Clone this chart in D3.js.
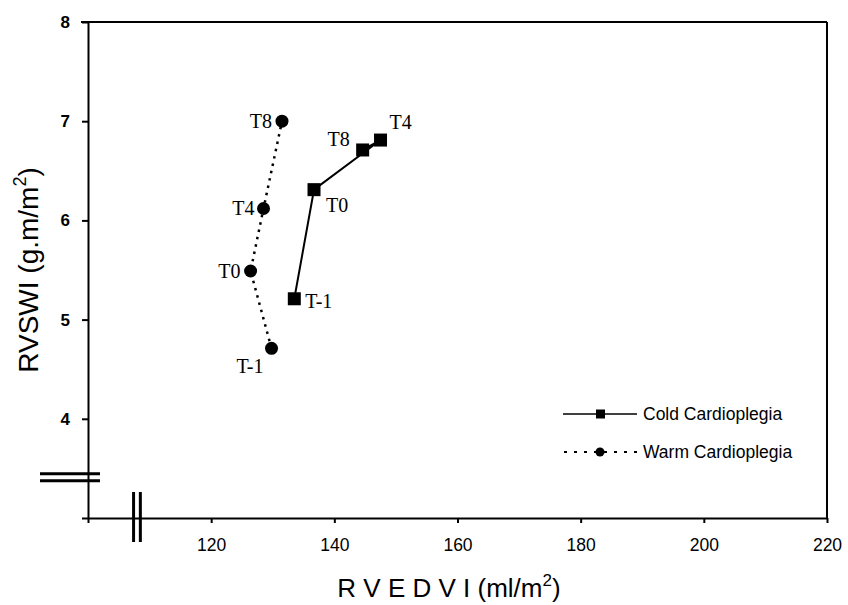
<!DOCTYPE html>
<html><head><meta charset="utf-8">
<script src="https://cdn.jsdelivr.net/npm/d3@7"></script>
<style>body{margin:0;background:#fff}svg{display:block}</style>
</head><body><svg id="c" width="848" height="605"></svg>
<script>
// ---- data ----
const timepoints = ["T-1", "T0", "T4", "T8"];
const coldX = [133.5, 136.7, 147.5, 144.6];
const coldY = [5.21, 6.31, 6.81, 6.71];
const warmX = [129.8, 126.4, 128.5, 131.5];
const warmY = [4.71, 5.49, 6.12, 7.0];
const xTicks = [100, 120, 140, 160, 180, 200, 220];
const xTickLabels = ["", "120", "140", "160", "180", "200", "220"];
const yTicks = [3, 4, 5, 6, 7, 8];
const yTickLabels = ["", "4", "5", "6", "7", "8"];
const seriesNames = ["Cold Cardioplegia", "Warm Cardioplegia"];

// ---- layout / style ----
const svg = d3.select("#c");
const x = d3.scaleLinear().domain([100, 220]).range([88, 827]);
const y = d3.scaleLinear().domain([3, 8]).range([518, 22]);
const sans = "Liberation Sans, Arial, sans-serif";
const serif = "Liberation Serif, Times New Roman, serif";

const coldLabelPos = [[11, 9, "start"], [12, 22, "start"], [9, -11, "start"], [-13, -4, "end"]];
const warmLabelPos = [[-8, 25, "end"], [-10, 7, "end"], [-9, 7, "end"], [-10, 7, "end"]];

// frame (top and right)
svg.append("line").attr("x1", x(100) - 7).attr("x2", x(220)).attr("y1", y(8)).attr("y2", y(8))
  .attr("stroke", "#000").attr("stroke-width", 2);
svg.append("line").attr("x1", x(220)).attr("x2", x(220)).attr("y1", y(8)).attr("y2", y(3))
  .attr("stroke", "#000").attr("stroke-width", 2);

// axes
const xAxis = d3.axisBottom(x).tickValues(xTicks).tickSize(5).tickSizeOuter(0)
  .tickFormat((d, i) => xTickLabels[i]);
const gx = svg.append("g").attr("transform", `translate(0,${y(3)})`).call(xAxis);
gx.select(".domain").attr("stroke-width", 2);
gx.selectAll(".tick line").attr("stroke-width", 2);
gx.selectAll(".tick text").attr("font-family", sans).attr("font-size", 17.5).attr("dy", "1.42em").attr("fill", "#000");

const yAxis = d3.axisLeft(y).tickValues(yTicks).tickSize(6).tickSizeOuter(0)
  .tickFormat((d, i) => yTickLabels[i]);
const gy = svg.append("g").attr("transform", `translate(${x(100)},0)`).call(yAxis);
gy.select(".domain").attr("stroke-width", 2);
gy.selectAll(".tick line").attr("stroke-width", 2);
gy.selectAll(".tick text").attr("font-family", sans).attr("font-size", 17).attr("font-weight", "bold")
  .attr("x", -18).attr("fill", "#000");

// axis breaks
[3.375, 3.445].forEach(v => {
  svg.append("line").attr("x1", 40).attr("x2", 100).attr("y1", y(v)).attr("y2", y(v))
    .attr("stroke", "#000").attr("stroke-width", 3);
});
[107.4, 108.5].forEach(v => {
  svg.append("line").attr("x1", x(v)).attr("x2", x(v)).attr("y1", 492).attr("y2", 542)
    .attr("stroke", "#000").attr("stroke-width", 3);
});

// axis titles
const xt = svg.append("text").attr("x", 449).attr("y", 597).attr("text-anchor", "middle")
  .attr("font-family", sans).attr("font-size", 26).attr("fill", "#000");
xt.append("tspan").text("R V E D V I (ml/m");
xt.append("tspan").attr("font-size", 17).attr("dy", -11).text("2");
xt.append("tspan").attr("dy", 11).text(")");

const yt = svg.append("text").attr("transform", "translate(38,270) rotate(-90)").attr("text-anchor", "middle")
  .attr("font-family", sans).attr("font-size", 28).attr("fill", "#000");
yt.append("tspan").text("RVSWI (g.m/m");
yt.append("tspan").attr("font-size", 18).attr("dy", -12).text("2");
yt.append("tspan").attr("dy", 12).text(")");

// series
const cold = timepoints.map((t, i) => ({t, x: coldX[i], y: coldY[i], lp: coldLabelPos[i]}));
const warm = timepoints.map((t, i) => ({t, x: warmX[i], y: warmY[i], lp: warmLabelPos[i]}));
const line = d3.line().x(d => x(d.x)).y(d => y(d.y));

svg.append("path").datum(warm).attr("d", line).attr("fill", "none").attr("stroke", "#000")
  .attr("stroke-width", 2.5).attr("stroke-dasharray", "2.5,5");
svg.append("path").datum(cold).attr("d", line).attr("fill", "none").attr("stroke", "#000")
  .attr("stroke-width", 2);

svg.selectAll("circle.w").data(warm).enter().append("circle").attr("class", "w")
  .attr("cx", d => x(d.x)).attr("cy", d => y(d.y)).attr("r", 6.5).attr("fill", "#000");
const sq = 13;
svg.selectAll("rect.c").data(cold).enter().append("rect").attr("class", "c")
  .attr("x", d => x(d.x) - sq / 2).attr("y", d => y(d.y) - sq / 2).attr("width", sq).attr("height", sq).attr("fill", "#000");

// point labels
[cold, warm].forEach(s => {
  svg.selectAll(null).data(s).enter().append("text")
    .attr("x", d => x(d.x) + d.lp[0]).attr("y", d => y(d.y) + d.lp[1])
    .attr("text-anchor", d => d.lp[2])
    .attr("font-family", serif).attr("font-size", 20).attr("fill", "#000").text(d => d.t);
});

// legend
const lg = svg.append("g");
const ly = [414, 452];
lg.append("line").attr("x1", 563).attr("x2", 637).attr("y1", ly[0]).attr("y2", ly[0]).attr("stroke", "#000").attr("stroke-width", 1.5);
lg.append("rect").attr("x", 596).attr("y", ly[0] - 4.5).attr("width", 9).attr("height", 9).attr("fill", "#000");
lg.append("line").attr("x1", 564).attr("x2", 637).attr("y1", ly[1]).attr("y2", ly[1]).attr("stroke", "#000").attr("stroke-width", 2).attr("stroke-dasharray", "3,7");
lg.append("circle").attr("cx", 600).attr("cy", ly[1]).attr("r", 4.5).attr("fill", "#000");
seriesNames.forEach((n, i) => {
  lg.append("text").attr("x", 643).attr("y", ly[i]).attr("dy", "0.35em")
    .attr("font-family", sans).attr("font-size", 17.5).attr("fill", "#000").text(n);
});
</script></body></html>
